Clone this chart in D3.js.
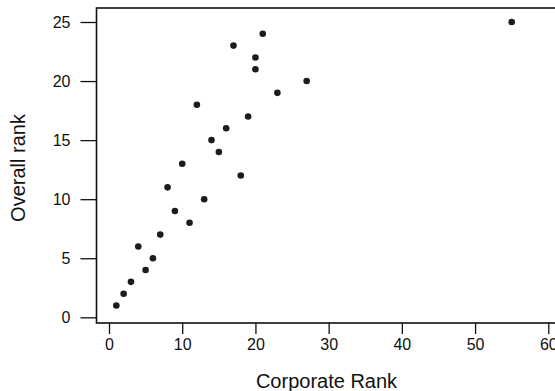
<!DOCTYPE html>
<html>
<head>
<meta charset="utf-8">
<script src="https://cdn.jsdelivr.net/npm/d3@7"></script>
<style>
  html, body { margin: 0; padding: 0; background: #fff; }
  svg { display: block; font-family: "Liberation Sans", Arial, sans-serif; }
</style>
</head>
<body>
<svg id="chart" width="555" height="391"></svg>
<script>
// Corporate rank vs overall rank
const corporateRank = [1, 2, 3, 4, 5, 6, 7, 8, 9, 10, 11, 12, 13, 14, 15, 16, 17, 18, 19, 20, 20, 21, 23, 27, 55];
const overallRank   = [1, 2, 3, 6, 4, 5, 7, 11, 9, 13, 8, 18, 10, 15, 14, 16, 23, 12, 17, 22, 21, 24, 19, 20, 25];
const xTicks = [0, 10, 20, 30, 40, 50, 60];
const yTicks = [0, 5, 10, 15, 20, 25];

const points = corporateRank.map((c, i) => ({ c, o: overallRank[i] }));

const svg = d3.select("#chart");

const box = { left: 96.5, top: 8, right: 562, bottom: 323 };

const x = d3.scaleLinear().domain([0, 60]).range([109, 548.3]);
const y = d3.scaleLinear().domain([0, 25]).range([317.3, 22]);

// frame around plotting region
svg.append("rect")
  .attr("x", box.left).attr("y", box.top)
  .attr("width", box.right - box.left).attr("height", box.bottom - box.top)
  .attr("fill", "none").attr("stroke", "#111").attr("stroke-width", 1.6);

// x axis ticks below the frame
const xAxis = d3.axisBottom(x).tickValues(xTicks).tickSize(11).tickPadding(5).tickFormat(d3.format("d"));
const gx = svg.append("g").attr("transform", `translate(0,${box.bottom})`).call(xAxis);
gx.select(".domain").remove();
gx.selectAll(".tick line").attr("stroke", "#111").attr("stroke-width", 1.3);
gx.selectAll(".tick text").attr("font-size", 16).attr("fill", "#111")
  .attr("font-family", "Liberation Sans, Arial, sans-serif");

// y axis ticks left of the frame
const yAxis = d3.axisLeft(y).tickValues(yTicks).tickSize(16).tickPadding(10).tickFormat(d3.format("d"));
const gy = svg.append("g").attr("transform", `translate(${box.left},0)`).call(yAxis);
gy.select(".domain").remove();
gy.selectAll(".tick line").attr("stroke", "#111").attr("stroke-width", 1.3);
gy.selectAll(".tick text").attr("font-size", 16).attr("fill", "#111")
  .attr("font-family", "Liberation Sans, Arial, sans-serif");

// points
svg.append("g").selectAll("circle").data(points).join("circle")
  .attr("cx", d => x(d.c)).attr("cy", d => y(d.o))
  .attr("r", 3.3).attr("fill", "#1c1c1c");

// axis titles
svg.append("text")
  .attr("x", 326.5).attr("y", 388)
  .attr("text-anchor", "middle").attr("font-size", 20).attr("fill", "#111")
  .text("Corporate Rank");

svg.append("text")
  .attr("transform", "translate(25,168) rotate(-90)")
  .attr("text-anchor", "middle").attr("font-size", 20).attr("fill", "#111")
  .text("Overall rank");
</script>
</body>
</html>
